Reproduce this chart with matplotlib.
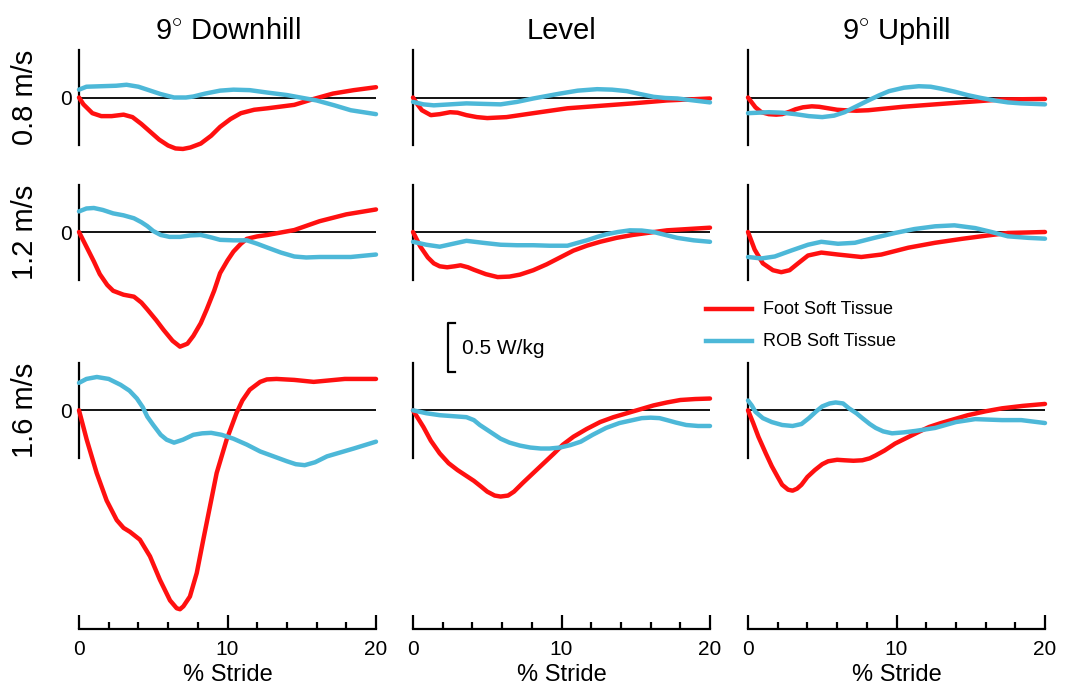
import matplotlib
matplotlib.use('Agg')
import matplotlib.pyplot as plt
from matplotlib.lines import Line2D

plt.rcParams['font.family'] = ['Liberation Sans', 'DejaVu Sans']
plt.rcParams['mathtext.fontset'] = 'custom'
plt.rcParams['mathtext.rm'] = 'Liberation Sans'

W, H = 1071, 692

# column / row labels
slopes = ['9$^{\\circ}$ Downhill', 'Level', '9$^{\\circ}$ Uphill']
speeds = ['0.8 m/s', '1.2 m/s', '1.6 m/s']
x_ticks = [0, 10, 20]

# power (W/kg) vs % stride: (x, y)
foot_down_08 = ([0, 0.3, 0.9, 1.5, 2.2, 3.0, 3.6, 4.2, 4.8, 5.4, 6.0, 6.5, 7.0, 7.5, 8.2, 8.9, 9.5, 10.2, 10.9, 11.8, 12.7, 14.5, 15.8, 17.1, 18.5, 20],
                [0, -0.07, -0.16, -0.19, -0.19, -0.175, -0.2, -0.27, -0.35, -0.43, -0.49, -0.52, -0.525, -0.51, -0.47, -0.39, -0.30, -0.22, -0.16, -0.125, -0.11, -0.075, -0.015, 0.04, 0.075, 0.105])
rob_down_08 = ([0, 0.5, 1.5, 2.5, 3.2, 4.0, 4.6, 5.5, 6.4, 7.2, 7.7, 8.5, 9.5, 10.4, 11.5, 12.7, 14.0, 14.9, 16, 17.2, 18.3, 20],
               [0.08, 0.11, 0.115, 0.12, 0.13, 0.11, 0.08, 0.035, 0.0, 0.0, 0.01, 0.04, 0.07, 0.08, 0.075, 0.05, 0.025, 0.0, -0.03, -0.08, -0.13, -0.17])
foot_down_12 = ([0, 0.5, 1.0, 1.4, 1.9, 2.3, 3.0, 3.7, 4.2, 4.6, 5.2, 5.7, 6.3, 6.8, 7.3, 7.7, 8.2, 8.6, 9.1, 9.5, 10.0, 10.4, 10.9, 11.3, 12.0, 12.7, 14.5, 16.2, 18, 20],
                [0, -0.15, -0.30, -0.43, -0.54, -0.60, -0.64, -0.66, -0.72, -0.79, -0.90, -1.0, -1.11, -1.17, -1.14, -1.06, -0.93, -0.79, -0.60, -0.42, -0.29, -0.20, -0.12, -0.07, -0.045, -0.03, 0.02, 0.11, 0.18, 0.23])
rob_down_12 = ([0, 0.5, 1, 1.6, 2.3, 3.0, 3.7, 4.2, 4.6, 5.0, 5.5, 6.1, 6.8, 7.5, 8.2, 8.9, 9.5, 10.4, 11.3, 12.0, 12.7, 13.6, 14.5, 15.3, 16.2, 18.3, 20],
               [0.21, 0.24, 0.245, 0.225, 0.19, 0.17, 0.14, 0.10, 0.06, 0.01, -0.03, -0.05, -0.05, -0.035, -0.03, -0.055, -0.08, -0.085, -0.085, -0.12, -0.16, -0.21, -0.25, -0.26, -0.255, -0.255, -0.23])
foot_down_16 = ([0, 0.52, 1.19, 1.86, 2.54, 3.0, 3.43, 4.1, 4.78, 5.45, 6.13, 6.58, 6.8, 7.03, 7.47, 7.93, 8.37, 8.82, 9.27, 9.94, 10.6, 11.0, 11.5, 12.2, 12.65, 13.3, 14.5, 15.8, 17.9, 20],
                [0, -0.30, -0.64, -0.92, -1.12, -1.2, -1.24, -1.32, -1.49, -1.73, -1.94, -2.02, -2.03, -2.0, -1.90, -1.66, -1.32, -0.98, -0.64, -0.30, -0.03, 0.10, 0.21, 0.29, 0.315, 0.32, 0.31, 0.29, 0.32, 0.32])
rob_down_16 = ([0, 0.5, 1.2, 2.0, 2.8, 3.4, 3.9, 4.3, 4.6, 5.0, 5.5, 5.9, 6.4, 7.0, 7.7, 8.3, 8.9, 9.6, 10.4, 11.3, 12.2, 13.1, 14, 14.6, 15.2, 15.9, 16.7, 17.6, 18.5, 20],
               [0.28, 0.32, 0.34, 0.32, 0.26, 0.2, 0.12, 0.03, -0.065, -0.15, -0.25, -0.30, -0.33, -0.30, -0.25, -0.235, -0.23, -0.25, -0.29, -0.35, -0.42, -0.47, -0.52, -0.55, -0.56, -0.53, -0.47, -0.43, -0.39, -0.32])

foot_level_08 = ([0, 0.3, 0.6, 1.2, 1.8, 2.5, 3.0, 3.6, 4.3, 5, 6.3, 8.1, 10.4, 12.6, 14.8, 17.1, 20],
                 [0, -0.07, -0.13, -0.18, -0.17, -0.15, -0.155, -0.18, -0.2, -0.21, -0.20, -0.16, -0.11, -0.085, -0.06, -0.03, -0.01])
rob_level_08 = ([0, 0.7, 1.4, 2.5, 3.6, 4.7, 5.9, 7.0, 8.1, 9.0, 9.9, 11.1, 12.4, 13.4, 14.4, 15.3, 16.2, 17.0, 17.8, 20],
                [-0.045, -0.07, -0.08, -0.07, -0.06, -0.065, -0.07, -0.045, -0.01, 0.015, 0.04, 0.07, 0.085, 0.08, 0.065, 0.035, 0.007, -0.005, -0.01, -0.05])
foot_level_12 = ([0, 0.5, 1.0, 1.4, 1.8, 2.3, 2.8, 3.2, 3.7, 4.1, 4.9, 5.7, 6.5, 7.2, 8.1, 9, 9.9, 10.8, 11.7, 12.6, 13.7, 14.8, 16, 17.1, 18.5, 20],
                 [0, -0.15, -0.26, -0.32, -0.35, -0.36, -0.35, -0.34, -0.36, -0.385, -0.43, -0.46, -0.455, -0.435, -0.39, -0.33, -0.26, -0.19, -0.14, -0.10, -0.06, -0.03, -0.005, 0.017, 0.03, 0.044])
rob_level_12 = ([0, 0.9, 1.8, 2.7, 3.6, 4.7, 5.9, 7, 8.1, 9.2, 10.4, 11.1, 11.7, 12.4, 13, 13.8, 14.6, 15.4, 16.2, 17, 17.8, 18.9, 20],
                [-0.10, -0.13, -0.15, -0.12, -0.09, -0.11, -0.13, -0.135, -0.135, -0.14, -0.14, -0.11, -0.085, -0.05, -0.024, 0.0, 0.017, 0.015, 0, -0.03, -0.06, -0.085, -0.10])
foot_level_16 = ([0, 0.7, 1.2, 1.8, 2.4, 3, 3.5, 4.1, 4.6, 5, 5.5, 5.9, 6.4, 6.8, 7.4, 8.1, 8.8, 9.5, 10.1, 10.8, 11.7, 12.6, 13.5, 14.4, 15.3, 16.2, 17.1, 18, 19, 20],
                 [0, -0.17, -0.31, -0.44, -0.54, -0.61, -0.66, -0.72, -0.78, -0.83, -0.87, -0.88, -0.87, -0.83, -0.74, -0.64, -0.54, -0.44, -0.35, -0.27, -0.19, -0.12, -0.07, -0.03, 0.01, 0.05, 0.08, 0.105, 0.115, 0.12])
rob_level_16 = ([0, 0.9, 1.8, 2.7, 3.6, 4.1, 4.5, 5.2, 5.9, 6.5, 7.2, 7.9, 8.6, 9.2, 9.9, 10.6, 11.3, 12.1, 13, 13.9, 14.8, 15.4, 16, 16.6, 17.1, 17.7, 18.4, 19.2, 20],
                [0, -0.03, -0.05, -0.06, -0.07, -0.1, -0.15, -0.22, -0.29, -0.33, -0.36, -0.38, -0.39, -0.39, -0.38, -0.355, -0.32, -0.25, -0.18, -0.13, -0.10, -0.08, -0.075, -0.08, -0.10, -0.125, -0.15, -0.16, -0.16])

foot_up_08 = ([0, 0.3, 0.5, 0.9, 1.4, 1.9, 2.3, 2.8, 3.2, 3.7, 4.3, 4.8, 5.4, 6.0, 6.5, 7.3, 8.1, 10.4, 12.6, 14.8, 17.1, 20],
              [0, -0.06, -0.1, -0.15, -0.17, -0.175, -0.17, -0.145, -0.12, -0.1, -0.09, -0.095, -0.11, -0.125, -0.13, -0.135, -0.13, -0.095, -0.07, -0.045, -0.02, -0.015])
rob_up_08 = ([0, 1.4, 2.3, 3.2, 4.1, 5, 5.8, 6.5, 7.3, 8.1, 8.8, 9.5, 10.5, 11.5, 12.3, 13, 13.9, 14.8, 15.7, 16.6, 17.5, 18.4, 20],
             [-0.16, -0.15, -0.155, -0.17, -0.19, -0.20, -0.185, -0.15, -0.09, -0.03, 0.02, 0.065, 0.1, 0.115, 0.11, 0.09, 0.06, 0.024, -0.005, -0.03, -0.05, -0.06, -0.07])
foot_up_12 = ([0, 0.45, 1.0, 1.68, 2.24, 2.8, 3.37, 4.04, 4.94, 6.06, 7.63, 8.98, 10.8, 12.6, 14.4, 16.2, 17.5, 20],
              [0, -0.18, -0.32, -0.39, -0.41, -0.39, -0.32, -0.24, -0.21, -0.23, -0.255, -0.23, -0.16, -0.11, -0.07, -0.034, -0.01, 0.0])
rob_up_12 = ([0, 0.9, 1.8, 2.9, 4.04, 4.94, 6.06, 7.2, 8.5, 9.9, 11.2, 12.6, 13.9, 15.3, 16.4, 17.5, 18.9, 20],
             [-0.255, -0.27, -0.25, -0.19, -0.13, -0.10, -0.12, -0.11, -0.06, -0.01, 0.03, 0.058, 0.068, 0.04, 0.0, -0.044, -0.06, -0.068])
foot_up_16 = ([0, 0.35, 0.7, 1.2, 1.6, 2.0, 2.3, 2.7, 3, 3.3, 3.6, 4.0, 4.5, 5.0, 5.4, 6.0, 6.5, 7.1, 7.7, 8.2, 8.6, 9.2, 9.9, 10.7, 11.5, 12.2, 13, 13.9, 14.8, 16, 17.1, 18.5, 20],
              [0, -0.13, -0.27, -0.44, -0.57, -0.68, -0.76, -0.81, -0.82, -0.80, -0.76, -0.68, -0.61, -0.55, -0.52, -0.505, -0.51, -0.515, -0.51, -0.49, -0.46, -0.41, -0.34, -0.28, -0.22, -0.17, -0.13, -0.09, -0.05, -0.01, 0.02, 0.045, 0.065])
rob_up_16 = ([0, 0.25, 0.5, 1.0, 1.6, 2.3, 3, 3.6, 4.1, 4.6, 5, 5.5, 5.9, 6.4, 6.8, 7.3, 7.7, 8.2, 8.6, 9.1, 9.7, 10.5, 11.3, 12.6, 14, 15.3, 16.2, 17.1, 18.4, 20],
             [0.10, 0.05, -0.015, -0.08, -0.12, -0.15, -0.16, -0.14, -0.08, -0.01, 0.04, 0.07, 0.08, 0.07, 0.02, -0.03, -0.08, -0.14, -0.18, -0.215, -0.235, -0.225, -0.21, -0.18, -0.12, -0.09, -0.095, -0.10, -0.10, -0.13])

foot = [[foot_down_08, foot_level_08, foot_up_08],
        [foot_down_12, foot_level_12, foot_up_12],
        [foot_down_16, foot_level_16, foot_up_16]]
rob = [[rob_down_08, rob_level_08, rob_up_08],
       [rob_down_12, rob_level_12, rob_up_12],
       [rob_down_16, rob_level_16, rob_up_16]]

RED = '#ff1010'
BLUE = '#4db8d8'
PX = 98.0  # pixels per W/kg

col_left = [79, 413, 748]
col_w = 297
# (top px, zero px, bottom px)
rows = [(50, 97.5, 145), (185, 232, 280), (363, 410.3, 629)]


def px_rect(left, top, width, height):
    return [left / W, 1 - (top + height) / H, width / W, height / H]


fig = plt.figure(figsize=(W / 100, H / 100), dpi=100)

for r, (top, zero, bot) in enumerate(rows):
    for c in range(3):
        ax = fig.add_axes(px_rect(col_left[c], top, col_w, bot - top))
        ax.set_xlim(0, 20)
        ax.set_ylim(-(bot - zero) / PX, (zero - top) / PX)
        ax.patch.set_alpha(0)
        for s in ['top', 'right']:
            ax.spines[s].set_visible(False)
        ax.spines['left'].set_linewidth(1.6)
        ax.spines['left'].set_bounds(-(145 - 97.5) / PX, (97.5 - 50) / PX)
        ax.axhline(0, xmin=0, xmax=1, color='black', lw=1.3, zorder=1)
        fx, fy = foot[r][c]
        bx, by = rob[r][c]
        ax.plot(fx, fy, color=RED, lw=3.2, solid_joinstyle='round', solid_capstyle='round', clip_on=False, zorder=3)
        ax.plot(bx, by, color=BLUE, lw=3.2, solid_joinstyle='round', solid_capstyle='round', clip_on=False, zorder=4)
        if c == 0:
            ax.set_yticks([0])
            ax.set_yticklabels(['0'], fontsize=15)
            ax.tick_params(axis='y', length=0, pad=5)
        else:
            ax.set_yticks([])
        if r == 2:
            ax.spines['bottom'].set_linewidth(1.6)
            ax.set_xticks(x_ticks)
            ax.set_xticks(range(0, 21, 2), minor=True)
            ax.tick_params(axis='x', which='major', direction='in', length=10, width=1.6, labelsize=15, pad=8)
            ax.tick_params(axis='x', which='minor', direction='in', length=5, width=1.6)
            fig.text((col_left[c] + col_w / 2) / W, 1 - 675 / H, '% Stride', fontsize=17,
                     ha='center', va='center')
        else:
            ax.spines['bottom'].set_visible(False)
            ax.set_xticks([])
        if r == 0:
            fig.text((col_left[c] + col_w / 2) / W, 1 - 31 / H, slopes[c], fontsize=21,
                     ha='center', va='center')
    fig.text(25 / W, 1 - zero / H, speeds[r], fontsize=21, rotation=90, ha='center', va='center')

# scale bar 0.5 W/kg
sb_x, sb_top = 448, 323
sb_bot = sb_top + 0.5 * PX
fig.add_artist(Line2D([455 / W, sb_x / W, sb_x / W, 455 / W],
                      [1 - sb_top / H, 1 - sb_top / H, 1 - sb_bot / H, 1 - sb_bot / H],
                      color='black', lw=1.6))
fig.text(462 / W, 1 - 348 / H, '0.5 W/kg', fontsize=15, ha='left', va='center')

# legend
for yy, col, lab in [(309, RED, 'Foot Soft Tissue'), (341, BLUE, 'ROB Soft Tissue')]:
    fig.add_artist(Line2D([706 / W, 752 / W], [1 - yy / H, 1 - yy / H], color=col, lw=3.2))
    fig.text(763 / W, 1 - yy / H, lab, fontsize=13, ha='left', va='center')

fig.savefig('out.png', dpi=100)
